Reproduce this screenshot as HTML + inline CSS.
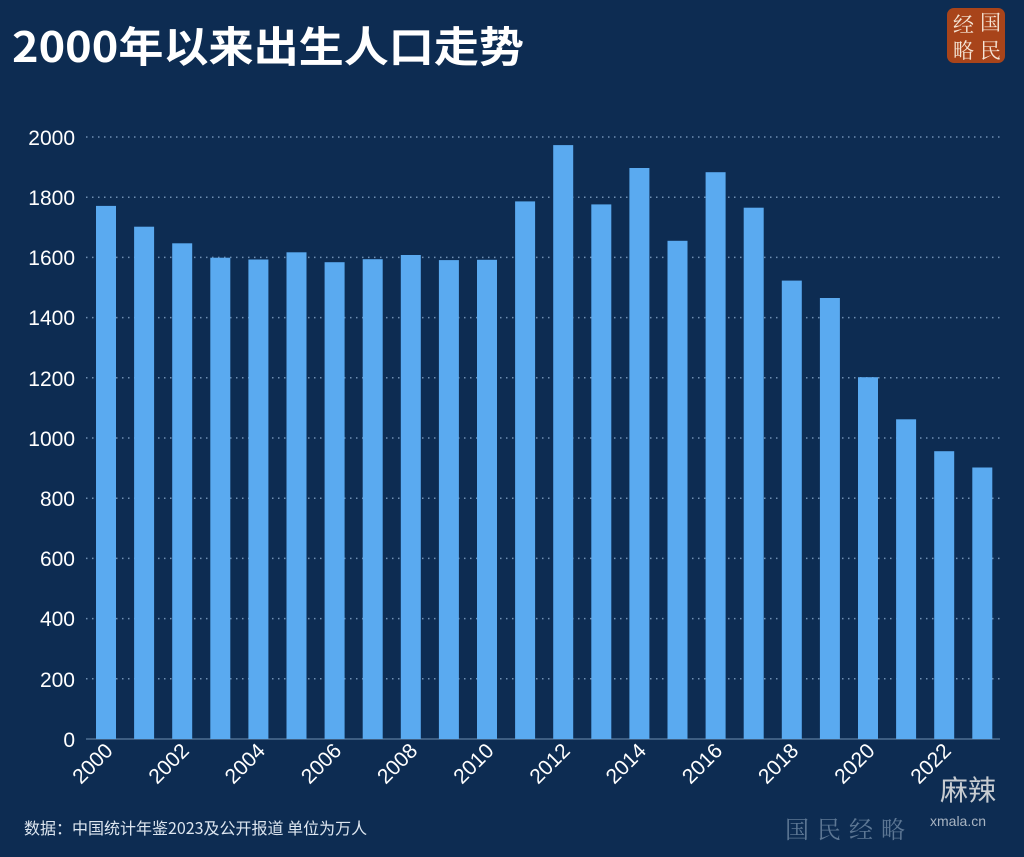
<!DOCTYPE html>
<html><head><meta charset="utf-8"><style>
html,body{margin:0;padding:0;background:#0d2c52;}
svg{display:block;font-family:"Liberation Sans","Noto Sans CJK SC",sans-serif;}
</style></head><body>
<svg width="1024" height="857" viewBox="0 0 1024 857" xmlns="http://www.w3.org/2000/svg">
<rect width="1024" height="857" fill="#0d2c52"/>
<text x="12" y="62" font-size="42" font-weight="bold" fill="#ffffff" font-family="'Noto Sans CJK SC',sans-serif" textLength="512" lengthAdjust="spacingAndGlyphs">2000年以来出生人口走势</text>
<rect x="947" y="8" width="58" height="55" rx="7" fill="#a8441a"/>
<text x="953" y="32" font-size="21" fill="#f6e6d6" font-family="'Noto Serif CJK SC',serif">经</text>
<text x="980" y="30" font-size="21" fill="#f6e6d6" font-family="'Noto Serif CJK SC',serif">国</text>
<text x="953" y="58" font-size="21" fill="#f6e6d6" font-family="'Noto Serif CJK SC',serif">略</text>
<text x="980" y="58" font-size="21" fill="#f6e6d6" font-family="'Noto Serif CJK SC',serif">民</text>
<g stroke="#6f8fb3" stroke-width="1.5" stroke-dasharray="1.5,4.5">
<line x1="86" y1="137" x2="1000" y2="137"/><line x1="86" y1="197.2" x2="1000" y2="197.2"/>
<line x1="86" y1="257.4" x2="1000" y2="257.4"/><line x1="86" y1="317.6" x2="1000" y2="317.6"/>
<line x1="86" y1="377.8" x2="1000" y2="377.8"/><line x1="86" y1="438" x2="1000" y2="438"/>
<line x1="86" y1="498.2" x2="1000" y2="498.2"/><line x1="86" y1="558.4" x2="1000" y2="558.4"/>
<line x1="86" y1="618.6" x2="1000" y2="618.6"/><line x1="86" y1="678.8" x2="1000" y2="678.8"/>
</g>
<line x1="86" y1="739" x2="1000" y2="739" stroke="#6f8fb3" stroke-width="1"/>
<g font-size="21" fill="#ffffff" text-anchor="end">
<text x="75" y="145">2000</text><text x="75" y="205">1800</text><text x="75" y="265">1600</text>
<text x="75" y="325">1400</text><text x="75" y="386">1200</text><text x="75" y="446">1000</text>
<text x="75" y="506">800</text><text x="75" y="566">600</text><text x="75" y="626">400</text>
<text x="75" y="687">200</text><text x="75" y="747">0</text>
</g>
<g fill="#5aaaf0">
<rect x="96" y="205.9" width="20" height="533.1"/>
<rect x="134.1" y="226.7" width="20" height="512.3"/>
<rect x="172.2" y="243.3" width="20" height="495.7"/>
<rect x="210.3" y="257.7" width="20" height="481.3"/>
<rect x="248.4" y="259.5" width="20" height="479.5"/>
<rect x="286.5" y="252.3" width="20" height="486.7"/>
<rect x="324.6" y="262.2" width="20" height="476.8"/>
<rect x="362.7" y="259.2" width="20" height="479.8"/>
<rect x="400.8" y="255" width="20" height="484"/>
<rect x="438.9" y="260.1" width="20" height="478.9"/>
<rect x="477" y="259.8" width="20" height="479.2"/>
<rect x="515.1" y="201.4" width="20" height="537.6"/>
<rect x="553.2" y="145.1" width="20" height="593.9"/>
<rect x="591.3" y="204.4" width="20" height="534.6"/>
<rect x="629.4" y="168" width="20" height="571"/>
<rect x="667.5" y="240.8" width="20" height="498.2"/>
<rect x="705.6" y="172.2" width="20" height="566.8"/>
<rect x="743.7" y="207.7" width="20" height="531.3"/>
<rect x="781.8" y="280.6" width="20" height="458.4"/>
<rect x="819.9" y="298" width="20" height="441"/>
<rect x="858" y="377.2" width="20" height="361.8"/>
<rect x="896.1" y="419.3" width="20" height="319.7"/>
<rect x="934.2" y="451.2" width="20" height="287.8"/>
<rect x="972.3" y="467.5" width="20" height="271.5"/>
</g>
<g font-size="21" fill="#ffffff" text-anchor="end">
<text transform="translate(114,752) rotate(-45)">2000</text>
<text transform="translate(190.2,752) rotate(-45)">2002</text>
<text transform="translate(266.4,752) rotate(-45)">2004</text>
<text transform="translate(342.6,752) rotate(-45)">2006</text>
<text transform="translate(418.8,752) rotate(-45)">2008</text>
<text transform="translate(495,752) rotate(-45)">2010</text>
<text transform="translate(571.2,752) rotate(-45)">2012</text>
<text transform="translate(647.4,752) rotate(-45)">2014</text>
<text transform="translate(723.6,752) rotate(-45)">2016</text>
<text transform="translate(799.8,752) rotate(-45)">2018</text>
<text transform="translate(876,752) rotate(-45)">2020</text>
<text transform="translate(952.2,752) rotate(-45)">2022</text>
</g>
<text x="24" y="834" font-size="16" fill="#dde6f0" font-family="'Noto Sans CJK SC',sans-serif">数据：中国统计年鉴2023及公开报道 单位为万人</text>
<text x="785" y="838" font-size="24" fill="#5d7794" font-family="'Noto Serif CJK SC',serif" letter-spacing="8">国民经略</text>
<text x="940" y="800" font-size="28" fill="#e8e8e8" font-family="'Noto Sans CJK SC',sans-serif" opacity="0.85">麻辣</text>
<text x="930" y="826" font-size="14" fill="#cfd6de" opacity="0.8">xmala.cn</text>
</svg>
</body></html>
